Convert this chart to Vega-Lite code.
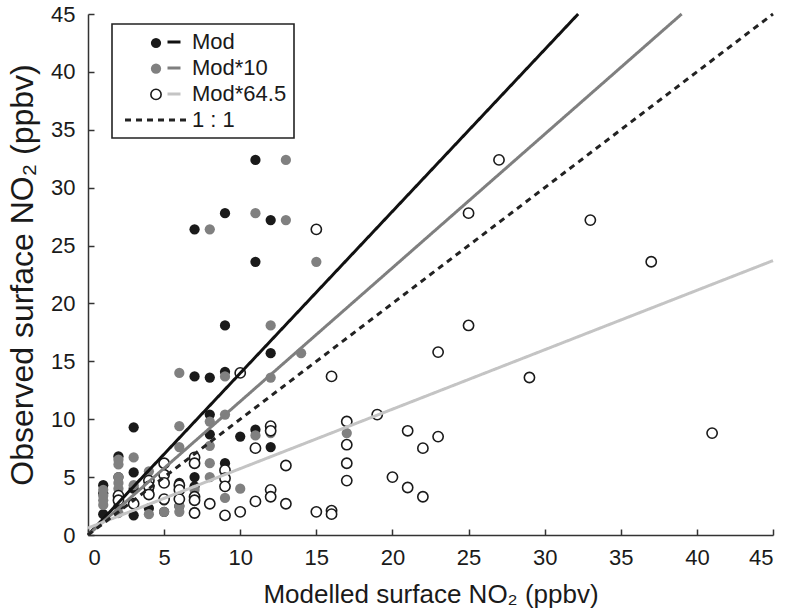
{
  "$schema": "https://vega.github.io/schema/vega-lite/v6.json",
  "width": 685,
  "height": 521,
  "autosize": "none",
  "padding": {"left": 88, "top": 14, "right": 15, "bottom": 78},
  "background": "white",
  "config": {
    "view": {"stroke": null},
    "font": "Liberation Sans",
    "axis": {
      "grid": false,
      "domainColor": "#333333",
      "domainWidth": 1.5,
      "tickColor": "#333333",
      "tickWidth": 1.5,
      "tickSize": -6,
      "labelColor": "#1a1a1a",
      "titleColor": "#1a1a1a",
      "labelFont": "Liberation Sans",
      "titleFont": "Liberation Sans",
      "titleFontWeight": "normal",
      "labelFontSize": 22
    }
  },
  "datasets": {
    "pts": [
      {"series": "Mod", "x": 1, "y": 4.3}, {"series": "Mod", "x": 1, "y": 3.6}, {"series": "Mod", "x": 1, "y": 1.8},
      {"series": "Mod", "x": 2, "y": 6.8}, {"series": "Mod", "x": 2, "y": 5.0}, {"series": "Mod", "x": 2, "y": 2.5},
      {"series": "Mod", "x": 3, "y": 9.3}, {"series": "Mod", "x": 3, "y": 5.4}, {"series": "Mod", "x": 3, "y": 4.0}, {"series": "Mod", "x": 3, "y": 1.7},
      {"series": "Mod", "x": 4, "y": 3.8}, {"series": "Mod", "x": 4, "y": 2.3},
      {"series": "Mod", "x": 5, "y": 3.0}, {"series": "Mod", "x": 5, "y": 2.0},
      {"series": "Mod", "x": 6, "y": 4.5}, {"series": "Mod", "x": 6, "y": 2.5},
      {"series": "Mod", "x": 7, "y": 26.4}, {"series": "Mod", "x": 7, "y": 13.7}, {"series": "Mod", "x": 7, "y": 5.0}, {"series": "Mod", "x": 7, "y": 4.2},
      {"series": "Mod", "x": 8, "y": 13.6}, {"series": "Mod", "x": 8, "y": 10.4}, {"series": "Mod", "x": 8, "y": 8.7},
      {"series": "Mod", "x": 9, "y": 27.8}, {"series": "Mod", "x": 9, "y": 18.1}, {"series": "Mod", "x": 9, "y": 14.1}, {"series": "Mod", "x": 9, "y": 6.2},
      {"series": "Mod", "x": 10, "y": 8.5},
      {"series": "Mod", "x": 11, "y": 32.4}, {"series": "Mod", "x": 11, "y": 23.6}, {"series": "Mod", "x": 11, "y": 9.1},
      {"series": "Mod", "x": 12, "y": 27.2}, {"series": "Mod", "x": 12, "y": 15.7}, {"series": "Mod", "x": 12, "y": 7.6},
      {"series": "Mod*10", "x": 1, "y": 3.9}, {"series": "Mod*10", "x": 1, "y": 3.4}, {"series": "Mod*10", "x": 1, "y": 3.0}, {"series": "Mod*10", "x": 1, "y": 2.6},
      {"series": "Mod*10", "x": 2, "y": 6.5}, {"series": "Mod*10", "x": 2, "y": 6.1}, {"series": "Mod*10", "x": 2, "y": 5.0}, {"series": "Mod*10", "x": 2, "y": 4.5}, {"series": "Mod*10", "x": 2, "y": 4.0}, {"series": "Mod*10", "x": 2, "y": 1.9},
      {"series": "Mod*10", "x": 3, "y": 6.7}, {"series": "Mod*10", "x": 3, "y": 4.3},
      {"series": "Mod*10", "x": 4, "y": 5.5}, {"series": "Mod*10", "x": 4, "y": 1.8},
      {"series": "Mod*10", "x": 5, "y": 2.0},
      {"series": "Mod*10", "x": 6, "y": 14.0}, {"series": "Mod*10", "x": 6, "y": 9.4}, {"series": "Mod*10", "x": 6, "y": 7.6}, {"series": "Mod*10", "x": 6, "y": 2.5}, {"series": "Mod*10", "x": 6, "y": 2.0},
      {"series": "Mod*10", "x": 7, "y": 3.9}, {"series": "Mod*10", "x": 7, "y": 2.0},
      {"series": "Mod*10", "x": 8, "y": 26.4}, {"series": "Mod*10", "x": 8, "y": 9.8}, {"series": "Mod*10", "x": 8, "y": 7.7}, {"series": "Mod*10", "x": 8, "y": 6.2}, {"series": "Mod*10", "x": 8, "y": 5.0},
      {"series": "Mod*10", "x": 9, "y": 13.7}, {"series": "Mod*10", "x": 9, "y": 10.4}, {"series": "Mod*10", "x": 9, "y": 3.2},
      {"series": "Mod*10", "x": 10, "y": 4.0},
      {"series": "Mod*10", "x": 11, "y": 27.8}, {"series": "Mod*10", "x": 11, "y": 8.6},
      {"series": "Mod*10", "x": 12, "y": 18.1}, {"series": "Mod*10", "x": 12, "y": 13.6}, {"series": "Mod*10", "x": 12, "y": 8.8},
      {"series": "Mod*10", "x": 13, "y": 32.4}, {"series": "Mod*10", "x": 13, "y": 27.2},
      {"series": "Mod*10", "x": 14, "y": 15.7},
      {"series": "Mod*10", "x": 15, "y": 23.6},
      {"series": "Mod*10", "x": 17, "y": 8.8},
      {"series": "Mod*64.5", "x": 2, "y": 3.4}, {"series": "Mod*64.5", "x": 2, "y": 3.0},
      {"series": "Mod*64.5", "x": 3, "y": 2.7},
      {"series": "Mod*64.5", "x": 4, "y": 4.7}, {"series": "Mod*64.5", "x": 4, "y": 4.2}, {"series": "Mod*64.5", "x": 4, "y": 3.5},
      {"series": "Mod*64.5", "x": 5, "y": 6.2}, {"series": "Mod*64.5", "x": 5, "y": 5.2}, {"series": "Mod*64.5", "x": 5, "y": 4.5}, {"series": "Mod*64.5", "x": 5, "y": 3.1},
      {"series": "Mod*64.5", "x": 6, "y": 4.3}, {"series": "Mod*64.5", "x": 6, "y": 3.9}, {"series": "Mod*64.5", "x": 6, "y": 3.1},
      {"series": "Mod*64.5", "x": 7, "y": 6.7}, {"series": "Mod*64.5", "x": 7, "y": 6.2}, {"series": "Mod*64.5", "x": 7, "y": 3.3}, {"series": "Mod*64.5", "x": 7, "y": 3.0}, {"series": "Mod*64.5", "x": 7, "y": 1.9},
      {"series": "Mod*64.5", "x": 8, "y": 2.7},
      {"series": "Mod*64.5", "x": 9, "y": 5.6}, {"series": "Mod*64.5", "x": 9, "y": 4.9}, {"series": "Mod*64.5", "x": 9, "y": 4.2}, {"series": "Mod*64.5", "x": 9, "y": 1.7},
      {"series": "Mod*64.5", "x": 10, "y": 14.0}, {"series": "Mod*64.5", "x": 10, "y": 2.0},
      {"series": "Mod*64.5", "x": 11, "y": 7.5}, {"series": "Mod*64.5", "x": 11, "y": 2.9},
      {"series": "Mod*64.5", "x": 12, "y": 9.4}, {"series": "Mod*64.5", "x": 12, "y": 9.0}, {"series": "Mod*64.5", "x": 12, "y": 3.9}, {"series": "Mod*64.5", "x": 12, "y": 3.3},
      {"series": "Mod*64.5", "x": 13, "y": 6.0}, {"series": "Mod*64.5", "x": 13, "y": 2.7},
      {"series": "Mod*64.5", "x": 15, "y": 26.4}, {"series": "Mod*64.5", "x": 15, "y": 2.0},
      {"series": "Mod*64.5", "x": 16, "y": 13.7}, {"series": "Mod*64.5", "x": 16, "y": 2.1}, {"series": "Mod*64.5", "x": 16, "y": 1.8},
      {"series": "Mod*64.5", "x": 17, "y": 9.8}, {"series": "Mod*64.5", "x": 17, "y": 7.8}, {"series": "Mod*64.5", "x": 17, "y": 6.2}, {"series": "Mod*64.5", "x": 17, "y": 4.7},
      {"series": "Mod*64.5", "x": 19, "y": 10.4},
      {"series": "Mod*64.5", "x": 20, "y": 5.0},
      {"series": "Mod*64.5", "x": 21, "y": 9.0}, {"series": "Mod*64.5", "x": 21, "y": 4.1},
      {"series": "Mod*64.5", "x": 22, "y": 7.5}, {"series": "Mod*64.5", "x": 22, "y": 3.3},
      {"series": "Mod*64.5", "x": 23, "y": 15.8}, {"series": "Mod*64.5", "x": 23, "y": 8.5},
      {"series": "Mod*64.5", "x": 25, "y": 27.8}, {"series": "Mod*64.5", "x": 25, "y": 18.1},
      {"series": "Mod*64.5", "x": 27, "y": 32.4},
      {"series": "Mod*64.5", "x": 29, "y": 13.6},
      {"series": "Mod*64.5", "x": 33, "y": 27.2},
      {"series": "Mod*64.5", "x": 37, "y": 23.6},
      {"series": "Mod*64.5", "x": 41, "y": 8.8}
    ],
    "lines": [
      {"series": "Mod", "x": 0, "y": 0}, {"series": "Mod", "x": 32.2, "y": 45},
      {"series": "Mod*10", "x": 0, "y": 0}, {"series": "Mod*10", "x": 39, "y": 45},
      {"series": "Mod*64.5", "x": 0, "y": 0.6}, {"series": "Mod*64.5", "x": 45, "y": 23.7},
      {"series": "1 : 1", "x": 0, "y": 0}, {"series": "1 : 1", "x": 45, "y": 45}
    ]
  },
  "layer": [
    {
      "data": {"name": "pts"},
      "mark": {"type": "point", "shape": "circle", "filled": true, "opacity": 1, "size": 105, "strokeWidth": 1.6},
      "encoding": {
        "x": {"field": "x", "type": "quantitative", "scale": {"domain": [0, 45], "nice": false},
          "axis": {"values": [0, 5, 10, 15, 20, 25, 30, 35, 40, 45], "title": "Modelled surface NO₂ (ppbv)", "titleFontSize": 26, "labelPadding": 18, "titlePadding": 13}},
        "y": {"field": "y", "type": "quantitative", "scale": {"domain": [0, 45], "nice": false},
          "axis": {"values": [0, 5, 10, 15, 20, 25, 30, 35, 40, 45], "title": "Observed surface NO₂ (ppbv)", "titleFontSize": 32, "labelPadding": 19, "titlePadding": 11}},
        "fill": {"field": "series", "type": "nominal",
          "scale": {"domain": ["Mod", "Mod*10", "Mod*64.5"], "range": ["#1a1a1a", "#808080", "#ffffff"]},
          "legend": {"orient": "none", "legendX": 55, "legendY": 16, "title": null, "padding": 7, "symbolType": "circle", "symbolSize": 105, "symbolOpacity": 1, "labelExpr": "''", "labelFontSize": 1, "labelOffset": 0, "rowPadding": 7.7,
            "encoding": {"symbols": {"stroke": {"value": {"expr": "datum.value === 'Mod*64.5' ? '#1a1a1a' : 'transparent'"}}, "strokeWidth": {"value": 1.6}}}}},
        "stroke": {"condition": {"test": "datum.series === 'Mod*64.5'", "value": "#1a1a1a"}, "value": "transparent"}
      }
    },
    {
      "data": {"name": "lines"},
      "mark": {"type": "line"},
      "encoding": {
        "x": {"field": "x", "type": "quantitative"},
        "y": {"field": "y", "type": "quantitative"},
        "stroke": {"field": "series", "type": "nominal",
          "scale": {"domain": ["Mod", "Mod*10", "Mod*64.5", "1 : 1"], "range": ["#111111", "#7f7f7f", "#c4c4c4", "#222222"]},
          "legend": {"orient": "none", "legendX": 24, "legendY": 10, "title": null, "padding": 7, "symbolType": "stroke", "symbolSize": 169, "labelFontSize": 22, "labelColor": "#1a1a1a", "rowPadding": 4, "labelOffset": 51, "strokeColor": "#222222",
            "encoding": {
              "symbols": {
                "size": {"value": {"expr": "datum.value === '1 : 1' ? 3844 : 169"}},
                "x": {"value": {"expr": "datum.value === '1 : 1' ? 37 : 55"}}
              },
              "legend": {"strokeWidth": {"value": 1.6}}
            }}},
        "strokeDash": {"field": "series", "type": "nominal",
          "scale": {"domain": ["Mod", "Mod*10", "Mod*64.5", "1 : 1"], "range": [[1, 0], [1, 0], [1, 0], [6, 5]]}},
        "strokeWidth": {"field": "series", "type": "nominal",
          "scale": {"domain": ["Mod", "Mod*10", "Mod*64.5", "1 : 1"], "range": [3, 3, 3, 1.3]}}
      }
    }
  ]
}
